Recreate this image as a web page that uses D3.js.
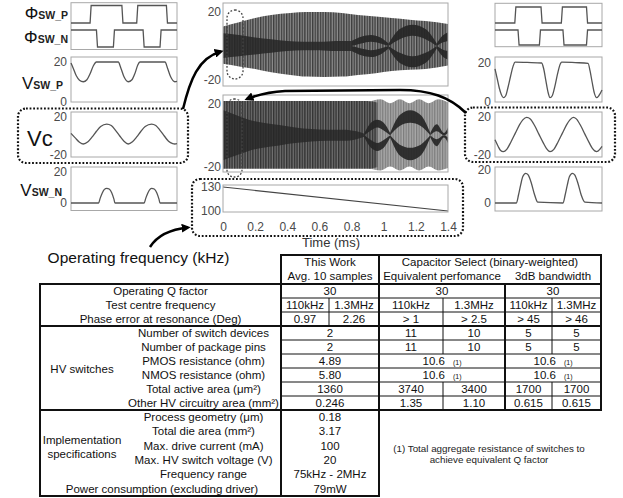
<!DOCTYPE html>
<html><head><meta charset="utf-8">
<script src="https://cdn.jsdelivr.net/npm/d3@7"></script>
<style>
body{margin:0;background:#fff;}
svg{display:block;font-family:"Liberation Sans",Arial,sans-serif;}
</style></head><body>
<svg id="c" width="623" height="498"></svg>
<script>
// ---------------- DATA ----------------
const timeTicks = [0, 0.2, 0.4, 0.6, 0.8, 1, 1.2, 1.4];
const timeTickLabels = ["0", "0.2", "0.4", "0.6", "0.8", "1", "1.2", "1.4"];
const voltTicks = [20, -20];
const swTicks = [20, 0];
const freqTicks = [130, 100];
const sweepTime = [0, 1.4];
const sweepFreqKHz = [130, 100];

// top main panel: envelope of the dense oscillation (V)
const topEnvT  = [0, 0.1, 0.2, 0.3, 0.42, 0.52, 0.63, 0.74, 0.84, 0.95, 1.05, 1.16, 1.26, 1.4];
const topEnvHi = [11.5, 14, 16.5, 18.2, 19.4, 20, 20, 19.4, 18.2, 17.3, 16.5, 15.5, 14.7, 13];
const topEnvLo = [-10.5, -12, -13.5, -15.5, -17, -18, -18.2, -18, -17, -16, -14.7, -14, -13.5, -11.5];
const topCoreT  = [0, 0.1, 0.2, 0.3, 0.4, 0.5, 0.6, 0.7, 0.8];
const topCoreHi = [7.5, 6.5, 5, 4, 3, 2.5, 2.5, 3, 3];
const topCoreLo = [-7, -6, -5, -4, -3, -2.5, -2.5, -3, -3];
const topLensAT = [0.8, 0.86, 0.92, 0.98, 1.03], topLensAOut = [3, 5.5, 6.5, 5, 1.5], topLensAIn = [0, 1.5, 2.5, 1.5, 0];
const topLensBT = [1.03, 1.1, 1.18, 1.26, 1.33], topLensBOut = [1.5, 10, 12.5, 10, 1.5], topLensBIn = [0, 4, 6, 4, 0];
const topLensCT = [1.33, 1.365, 1.4], topLensCOut = [1.5, 6, 8], topLensCIn = [0, 2, 3];

// middle main panel: Vc (V)
const midEnvT  = [0, 0.3, 0.6, 0.9, 0.96];
const midEnvHi = [22, 22, 22, 22, 21];
const midEnvLo = [-21.5, -21.5, -21.5, -21.5, -20.5];
const midBlobT  = [0.9, 0.98, 1.04, 1.1, 1.16, 1.22, 1.28, 1.34, 1.4];
const midBlobHi = [21, 23, 20.5, 23, 20.5, 23, 20.5, 23, 21];
const midBlobLo = [-21, -22.5, -20, -22.5, -20, -22.5, -20, -22.5, -21];
const midCoreT  = [0, 0.08, 0.16, 0.25, 0.35, 0.45, 0.55, 0.65, 0.75, 0.83, 0.88];
const midCoreHi = [16, 13, 10, 8, 6.5, 5, 4, 3.5, 3.5, 2.5, 1];
const midCoreLo = [-16, -13, -10, -8, -6.5, -5, -4, -3.5, -3.5, -2.5, -1];
const midLensAT = [0.88, 0.92, 0.96, 1.0, 1.04], midLensAOut = [1.5, 8, 10, 8, 1.5], midLensAIn = [0, 3, 5, 3, 0];
const midLensBT = [1.04, 1.1, 1.165, 1.23, 1.29], midLensBOut = [1.5, 13, 16, 13, 1.5], midLensBIn = [0, 6, 8, 6, 0];
const midLensCT = [1.29, 1.33, 1.375, 1.4], midLensCOut = [1.5, 7, 1.5, 5], midLensCIn = [0, 2.5, 0, 1.5];

// small panels (time in % of window)
const leftPhiPT = [0, 18, 19, 48, 49, 62, 63, 90, 91, 100], leftPhiP = [0, 0, 1, 1, 0, 0, 1, 1, 0, 0];
const leftPhiNT = [0, 24, 25, 40, 41, 68, 69, 84, 85, 100], leftPhiN = [1, 1, 0, 0, 1, 1, 0, 0, 1, 1];
const rightPhiPT = [0, 18.5, 19.5, 43, 44, 62, 63, 85.5, 86.5, 100], rightPhiP = [0, 0, 1, 1, 0, 0, 1, 1, 0, 0];
const rightPhiNT = [0, 21.5, 22.5, 41.5, 42.5, 63.5, 64.5, 85.5, 86.5, 100], rightPhiN = [1, 1, 0, 0, 1, 1, 0, 0, 1, 1];

const leftVswPT = [0, 2, 5, 8, 11.6, 15, 18, 21, 24, 44.6, 47, 50, 54, 57.5, 60.5, 63, 65, 88.7, 91, 94, 98, 100];
const leftVswP  = [19.5, 17, 13, 10.8, 10, 11, 14, 18, 20, 20, 17, 12.5, 10, 11, 14.5, 18.5, 20, 20, 17, 12.5, 10, 10.2];
const leftVcT = [0, 4, 8, 11.6, 16, 20, 24, 28, 33.7, 38, 42, 46, 50, 54, 58, 62, 66, 70, 76, 80, 84, 88, 92, 96, 98, 100];
const leftVc  = [2.8, -2, -6.5, -8.4, -6, -1, 5, 10, 12.6, 11, 6, 0, -5.5, -8.4, -6, -1, 5, 10, 12.6, 11, 6, 0, -5.5, -8, -8.4, -8];
const leftVswNT = [0, 26, 27.5, 29.5, 31.5, 33.7, 36, 38.5, 40.5, 41.5, 69, 70.5, 72.5, 74.5, 76, 78.5, 81, 83, 84, 100];
const leftVswN  = [0, 0, 3, 6.5, 8.8, 9.5, 9, 6.5, 2.5, 0, 0, 3, 6.5, 8.8, 9.5, 9, 6.5, 2.5, 0, 0];

const rightVswPT = [0, 2, 4, 6, 7.8, 10, 12, 14.5, 17, 18.7, 30, 43.6, 45.5, 47.5, 49.5, 51.4, 53.5, 56, 58.5, 61, 62.3, 75, 87, 88.8, 90.8, 92.8, 95, 97, 100];
const rightVswP  = [17, 12, 7, 3.5, 2, 3, 7, 13, 18.5, 20.5, 20.3, 20, 17, 11, 5, 2, 3, 8, 14.5, 19.5, 20.5, 20.2, 19.8, 16, 10, 4.5, 2, 3, 6];
const rightVcT = [0, 3, 5, 7.8, 11, 15, 19, 23, 26, 29.6, 33, 37, 41, 45, 48, 51.4, 55, 59, 63, 67, 70, 73.2, 76, 80, 84, 88, 91, 95, 98, 100];
const rightVc  = [-4, -11, -15, -16.5, -14, -6, 3, 12, 17, 19.7, 18, 11, 2, -7, -13, -16.5, -14, -6, 3, 12, 17, 19.7, 18, 11, 2, -7, -13, -16.5, -14, -11];
const rightVswNT = [0, 20, 22, 24, 26, 28.7, 31, 34, 37, 40, 63.6, 65.6, 67.6, 69.6, 72.3, 74.5, 77.5, 80.5, 84, 100];
const rightVswN  = [0, 0, 5, 11, 16, 18, 17, 12, 5, 0.5, 0, 5, 11, 16, 18, 17, 12, 5, 0.5, 0];

// text
const phiLabels = ["SW_P", "SW_N"];
const timeTitle = "Time (ms)";
const freqTitle = "Operating frequency (kHz)";

// table
const headTW = ["This Work", "Avg. 10 samples"];
const headCS = "Capacitor Select (binary-weighted)";
const headCSSub = ["Equivalent perfomance", "3dB bandwidth"];
const sec1Labels = ["Operating Q factor", "Test centre frequency", "Phase error at resonance (Deg)"];
const sec1Values = [
  [["30", 2], ["30", 2], ["30", 2]],
  [["110kHz", 1], ["1.3MHz", 1], ["110kHz", 1], ["1.3MHz", 1], ["110kHz", 1], ["1.3MHz", 1]],
  [["0.97", 1], ["2.26", 1], ["> 1", 1], ["> 2.5", 1], ["> 45", 1], ["> 46", 1]]
];
const sec2Group = "HV switches";
const sec2Labels = ["Number of switch devices", "Number of package pins", "PMOS resistance (ohm)", "NMOS resistance (ohm)", "Total active area (\u03bcm\u00b2)", "Other HV circuitry area (mm\u00b2)"];
const sec2Values = [
  [["2", 2], ["11", 1], ["10", 1], ["5", 1], ["5", 1]],
  [["2", 2], ["11", 1], ["10", 1], ["5", 1], ["5", 1]],
  [["4.89", 2], ["10.6", 2, "(1)"], ["10.6", 2, "(1)"]],
  [["5.80", 2], ["10.6", 2, "(1)"], ["10.6", 2, "(1)"]],
  [["1360", 2], ["3740", 1], ["3400", 1], ["1700", 1], ["1700", 1]],
  [["0.246", 2], ["1.35", 1], ["1.10", 1], ["0.615", 1], ["0.615", 1]]
];
const sec3Group = ["Implementation", "specifications"];
const sec3Labels = ["Process geometry (\u03bcm)", "Total die area (mm\u00b2)", "Max. drive current (mA)", "Max. HV switch voltage (V)", "Frequency range", "Power consumption (excluding driver)"];
const sec3Values = ["0.18", "3.17", "100", "20", "75kHz - 2MHz", "79mW"];
const footnote = ["(1) Total aggregate resistance of switches to", "achieve equivalent Q factor"];

// ---------------- DRAW ----------------
const svg = d3.select("#c");
const defs = svg.append("defs");
function stripes(id, base, stripe, w, per) {
  const p = defs.append("pattern").attr("id", id).attr("patternUnits", "userSpaceOnUse")
    .attr("width", per).attr("height", 8);
  p.append("rect").attr("width", per).attr("height", 8).attr("fill", base);
  p.append("rect").attr("width", w).attr("height", 8).attr("fill", stripe);
}
stripes("stTop", "#8e8e8e", "#3e3e3e", 1.4, 2.6);
stripes("stMid", "#727272", "#333333", 1.4, 2.6);
stripes("stLight", "#a8a8a8", "#7c7c7c", 1.2, 2.6);
defs.append("marker").attr("id", "arr").attr("viewBox", "0 0 10 10").attr("refX", 7).attr("refY", 5)
  .attr("markerWidth", 3.6).attr("markerHeight", 3.6).attr("orient", "auto")
  .append("path").attr("d", "M0,0L10,5L0,10z").attr("fill", "#000");

const FONT = "Liberation Sans, Arial, sans-serif";
const plain = d => String(d);
const x = d3.scaleLinear().domain([0, 1.4]).range([223, 448]);
const panels = {
  top: {y0: 3, y1: 86, y: d3.scaleLinear().domain([-20, 20]).range([80, 12])},
  mid: {y0: 95, y1: 172, y: d3.scaleLinear().domain([-20, 20]).range([166.5, 104])},
  frq: {y0: 185, y1: 212, y: d3.scaleLinear().domain([100, 130]).range([211, 187])}
};
Object.entries(panels).forEach(([k, p]) => {
  defs.append("clipPath").attr("id", "clip-" + k).append("rect")
    .attr("x", 223).attr("y", p.y0).attr("width", 225).attr("height", p.y1 - p.y0);
});

function band(g, y, T, hi, lo, fill, op) {
  const data = T.map((t, i) => ({t, hi: hi[i], lo: lo[i]}));
  g.append("path").datum(data)
    .attr("d", d3.area().x(d => x(d.t)).y0(d => y(d.lo)).y1(d => y(d.hi)).curve(d3.curveMonotoneX))
    .attr("fill", fill).attr("opacity", op == null ? 1 : op);
}
function lens(g, y, T, out, inn, fill) {
  band(g, y, T, out, inn, fill, 0.92);
  band(g, y, T, inn.map(v => -v), out.map(v => -v), fill, 0.92);
}
const DARK = "#262626";

// top panel
const gTop = svg.append("g").attr("clip-path", "url(#clip-top)");
band(gTop, panels.top.y, topEnvT, topEnvHi, topEnvLo, "url(#stTop)");
band(gTop, panels.top.y, topCoreT, topCoreHi, topCoreLo, DARK, 0.85);
lens(gTop, panels.top.y, topLensAT, topLensAOut, topLensAIn, DARK);
lens(gTop, panels.top.y, topLensBT, topLensBOut, topLensBIn, DARK);
lens(gTop, panels.top.y, topLensCT, topLensCOut, topLensCIn, DARK);

// middle panel
const gMid = svg.append("g").attr("clip-path", "url(#clip-mid)");
band(gMid, panels.mid.y, midBlobT, midBlobHi, midBlobLo, "url(#stLight)");
band(gMid, panels.mid.y, midEnvT, midEnvHi, midEnvLo, "url(#stMid)");
band(gMid, panels.mid.y, midCoreT, midCoreHi, midCoreLo, DARK, 0.8);
lens(gMid, panels.mid.y, midLensAT, midLensAOut, midLensAIn, DARK);
lens(gMid, panels.mid.y, midLensBT, midLensBOut, midLensBIn, DARK);
lens(gMid, panels.mid.y, midLensCT, midLensCOut, midLensCIn, DARK);

// frequency sweep
svg.append("g").attr("clip-path", "url(#clip-frq)").append("path")
  .datum(sweepTime.map((t, i) => [t, sweepFreqKHz[i]]))
  .attr("d", d3.line().x(d => x(d[0])).y(d => panels.frq.y(d[1])))
  .attr("fill", "none").attr("stroke", "#444").attr("stroke-width", 1.2);

// frames + axes
function styleAxis(g) {
  g.attr("font-size", 12).attr("font-family", FONT);
  g.select(".domain").remove();
  g.selectAll("text").attr("fill", "#4a4a4a");
}
Object.values(panels).forEach(p => {
  svg.append("rect").attr("x", 223).attr("y", p.y0).attr("width", 225).attr("height", p.y1 - p.y0)
    .attr("fill", "none").attr("stroke", "#a8a8a8").attr("stroke-width", 1);
});
svg.append("g").attr("transform", "translate(223,0)")
  .call(d3.axisLeft(panels.top.y).tickValues(voltTicks).tickFormat(plain).tickSize(0).tickPadding(2)).call(styleAxis);
svg.append("g").attr("transform", "translate(223,0)")
  .call(d3.axisLeft(panels.mid.y).tickValues(voltTicks).tickFormat(plain).tickSize(0).tickPadding(2)).call(styleAxis);
svg.append("g").attr("transform", "translate(223,0)")
  .call(d3.axisLeft(panels.frq.y).tickValues(freqTicks).tickFormat(plain).tickSize(0).tickPadding(2)).call(styleAxis);
svg.append("g").attr("transform", "translate(0,212)")
  .call(d3.axisBottom(x).tickValues(timeTicks).tickFormat((d, i) => timeTickLabels[i]).tickSize(0).tickPadding(10))
  .call(styleAxis);
svg.append("text").attr("x", 331).attr("y", 247).attr("text-anchor", "middle")
  .attr("font-size", 13).attr("fill", "#333").text(timeTitle);

// small panels
function smallPanel(x0, x1, y0, y1, yScale, ticks, T, V, curve) {
  const xs = d3.scaleLinear().domain([0, 100]).range([x0, x1]);
  svg.append("rect").attr("x", x0).attr("y", y0).attr("width", x1 - x0).attr("height", y1 - y0)
    .attr("fill", "none").attr("stroke", "#a8a8a8");
  if (T) {
    svg.append("path").datum(T.map((t, i) => [t, V[i]]))
      .attr("d", d3.line().x(d => xs(d[0])).y(d => yScale(d[1])).curve(curve || d3.curveMonotoneX))
      .attr("fill", "none").attr("stroke", "#555").attr("stroke-width", 1.3);
  }
  if (ticks) {
    svg.append("g").attr("transform", `translate(${x0},0)`)
      .call(d3.axisLeft(yScale).tickValues(ticks).tickFormat(plain).tickSize(0).tickPadding(4)).call(styleAxis);
  }
  return xs;
}
// Phi panels
[[71, 177, 2.7, 49.5, leftPhiPT, leftPhiP, [23, 5.5], leftPhiNT, leftPhiN, [47, 30]],
 [495, 602, 3.3, 46.7, rightPhiPT, rightPhiP, [23, 7], rightPhiNT, rightPhiN, [45, 30]]].forEach(c => {
  const xs = smallPanel(c[0], c[1], c[2], c[3], null, null, null, null);
  const yp = d3.scaleLinear().domain([0, 1]).range(c[6]);
  const yn = d3.scaleLinear().domain([0, 1]).range(c[9]);
  svg.append("path").datum(c[4].map((t, i) => [t, c[5][i]]))
    .attr("d", d3.line().x(d => xs(d[0])).y(d => yp(d[1]))).attr("fill", "none").attr("stroke", "#555").attr("stroke-width", 1.3);
  svg.append("path").datum(c[7].map((t, i) => [t, c[8][i]]))
    .attr("d", d3.line().x(d => xs(d[0])).y(d => yn(d[1]))).attr("fill", "none").attr("stroke", "#555").attr("stroke-width", 1.3);
});
smallPanel(71, 177, 57, 102, d3.scaleLinear().domain([0, 20]).range([101.5, 62]), swTicks, leftVswPT, leftVswP);
smallPanel(71, 177, 112, 157, d3.scaleLinear().domain([-20, 20]).range([155, 117]), voltTicks, leftVcT, leftVc);
smallPanel(71, 177, 167, 210.5, d3.scaleLinear().domain([0, 20]).range([203, 172]), swTicks, leftVswNT, leftVswN);
smallPanel(495, 602, 57, 102, d3.scaleLinear().domain([0, 20]).range([101.5, 63]), swTicks, rightVswPT, rightVswP);
smallPanel(495, 602, 112, 157, d3.scaleLinear().domain([-20, 20]).range([155, 117]), voltTicks, rightVcT, rightVc);
smallPanel(495, 602, 167, 211, d3.scaleLinear().domain([0, 20]).range([203, 170]), swTicks, rightVswNT, rightVswN);

// signal labels
function sigLabel(xr, yb, big, bigSize, sub) {
  const t = svg.append("text").attr("x", xr).attr("y", yb).attr("text-anchor", "end").attr("fill", "#111");
  t.append("tspan").attr("font-size", bigSize).text(big);
  t.append("tspan").attr("font-size", 10.5).attr("font-weight", "bold").attr("fill", "#222").text(sub);
}
sigLabel(68, 19, "\u03a6", 17, phiLabels[0]);
sigLabel(68, 43, "\u03a6", 17, phiLabels[1]);
sigLabel(63, 89, "V", 17, "SW_P");
sigLabel(62, 196, "V", 17, "SW_N");
svg.append("text").attr("x", 27).attr("y", 146).attr("font-size", 22).attr("fill", "#111").text("Vc");

// dotted boxes
function dotted(x0, y0, x1, y1, r, w, col) {
  svg.append("rect").attr("x", x0).attr("y", y0).attr("width", x1 - x0).attr("height", y1 - y0)
    .attr("rx", r).attr("fill", "none").attr("stroke", col).attr("stroke-width", w)
    .attr("stroke-dasharray", "1.8,1.8");
}
dotted(18, 108.5, 188, 163, 8, 2.2, "#111");
dotted(465, 107.5, 615, 162, 8, 2.2, "#111");
dotted(192, 179, 463, 236, 8, 2.2, "#111");
dotted(227, 10, 243, 79, 8, 1.3, "#444");
dotted(227, 99, 242, 177, 7, 1.3, "#444");

// arrows
[["M183,109 C190,80 198,58 221,51.5"],
 ["M466,113 C450,97 430,90 400,90 L285,91 C268,92 257,95 247,99"],
 ["M150,247 C157,236 168,229.5 188,227.5"]].forEach(d => {
  svg.append("path").attr("d", d[0]).attr("fill", "none").attr("stroke", "#000")
    .attr("stroke-width", 2.5).attr("marker-end", "url(#arr)");
});

svg.append("text").attr("x", 138.5).attr("y", 262.5).attr("text-anchor", "middle")
  .attr("font-size", 15.5).attr("fill", "#111").text(freqTitle);

// ---------------- TABLE ----------------
const T = svg.append("g").attr("font-size", 11.5).attr("fill", "#111");
const cols = [281, 329, 379, 443, 505, 552, 601];
const sec1Rows = [284, 298, 312, 326];
const sec2Rows = [326, 340, 354, 368, 382, 396, 410];
const sec3Rows = [410, 424.3, 438.6, 452.9, 467.2, 481.5, 496];
const txt = (x, y, s, anchor) => T.append("text").attr("x", x).attr("y", y)
  .attr("text-anchor", anchor || "middle").text(s);
const line = (x1, y1, x2, y2, w) => T.append("line").attr("x1", x1).attr("y1", y1).attr("x2", x2).attr("y2", y2)
  .attr("stroke", "#111").attr("stroke-width", w);
function valueRow(cells, y0, y1) {
  let c = 0;
  const yb = (y0 + y1) / 2 + 4;
  cells.forEach((cell, i) => {
    const xa = cols[c], xb = cols[c + cell[1]];
    const t = txt((xa + xb) / 2, yb, cell[0]);
    if (cell[2]) {
      t.append("tspan").attr("font-size", 7).attr("dx", 8).text(cell[2]);
    }
    if (i > 0 && c !== 2 && c !== 4) line(xa, y0, xa, y1, 1);
    c += cell[1];
  });
}
// header
txt(330, 266, headTW[0]); txt(330, 280, headTW[1]);
txt(490, 266, headCS); txt(442, 280, headCSSub[0]); txt(553, 280, headCSSub[1]);
// section 1
sec1Labels.forEach((s, i) => {
  txt(160.5, (sec1Rows[i] + sec1Rows[i + 1]) / 2 + 4, s);
  valueRow(sec1Values[i], sec1Rows[i], sec1Rows[i + 1]);
  if (i > 0) line(281, sec1Rows[i], 601, sec1Rows[i], 1);
});
// section 2
sec2Labels.forEach((s, i) => {
  txt(203.5, (sec2Rows[i] + sec2Rows[i + 1]) / 2 + 4, s);
  valueRow(sec2Values[i], sec2Rows[i], sec2Rows[i + 1]);
  if (i > 0) line(281, sec2Rows[i], 601, sec2Rows[i], 1);
});
txt(82, 373, sec2Group);
// section 3
sec3Labels.forEach((s, i) => {
  const yb = (sec3Rows[i] + sec3Rows[i + 1]) / 2 + 4;
  txt(i === 5 ? 162 : 203.5, yb, s);
  txt(330, yb, sec3Values[i]);
});
txt(82, 444, sec3Group[0]); txt(82, 458, sec3Group[1]);
const fn = svg.append("g").attr("font-size", 9.8).attr("fill", "#222");
footnote.forEach((s, i) => fn.append("text").attr("x", 489).attr("y", 452 + i * 11).attr("text-anchor", "middle").text(s));
// thick borders
line(280, 255, 602, 255, 2);
line(39, 284, 602, 284, 2);
line(39, 326, 602, 326, 2);
line(39, 410, 602, 410, 2);
line(39, 496, 380, 496, 2);
line(40, 283, 40, 497, 2);
line(281, 254, 281, 497, 2);
line(379, 254, 379, 497, 2);
line(505, 284, 505, 411, 2);
line(601, 254, 601, 411, 2);
</script></body></html>
